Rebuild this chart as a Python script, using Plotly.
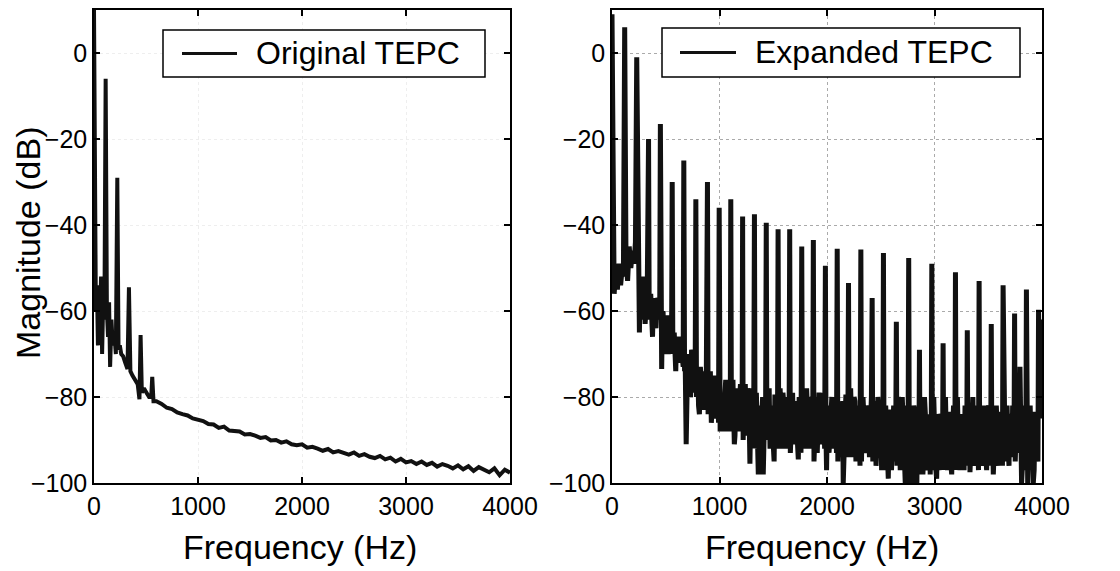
import plotly.graph_objects as go

# ---------------- data ----------------
# Left panel: Original TEPC (frequency in Hz, magnitude in dB)
left_low_hz = [0, 8, 18, 28, 38, 48, 58, 68, 78, 88, 100, 112, 124, 135, 145, 155, 168, 180,
               195, 210, 224, 236, 248, 262, 280, 300, 322, 336, 350, 370, 395, 420, 437, 448,
               460, 480, 505, 530, 550, 560, 572]
left_low_db = [10, -52, -60, -54, -68, -56, -62, -52, -70, -58, -62, -6, -60, -66, -58, -73, -62, -68,
               -65, -70, -29, -69, -68, -70, -70.5, -72, -73.5, -54.5, -74, -75, -76, -77, -80.5, -65.6,
               -79, -78, -79, -80, -80, -75.3, -81]
left_tail_hz = [600, 650, 700, 750, 800, 850, 900, 950, 1000, 1050, 1100, 1150, 1200, 1250, 1300,
                1350, 1400, 1450, 1500, 1550, 1600, 1650, 1700, 1750, 1800, 1850, 1900, 1950, 2000,
                2050, 2100, 2150, 2200, 2250, 2300, 2350, 2400, 2450, 2500, 2550, 2600, 2650, 2700,
                2750, 2800, 2850, 2900, 2950, 3000, 3050, 3100, 3150, 3200, 3250, 3300, 3350, 3400,
                3450, 3500, 3550, 3600, 3650, 3700, 3750, 3800, 3850, 3900, 3950, 4000]
left_tail_db = [-81.0, -81.6, -82.5, -82.8, -83.6, -84.0, -84.3, -85.0, -85.4, -85.6, -86.3, -86.4,
                -87.2, -86.9, -87.8, -87.9, -88.0, -88.7, -88.6, -89.0, -89.5, -89.3, -90.1, -90.0,
                -90.6, -90.3, -91.0, -91.2, -91.0, -91.8, -91.6, -92.0, -92.5, -92.1, -92.9, -92.6,
                -93.0, -93.4, -92.9, -93.7, -93.3, -93.9, -94.2, -93.7, -94.5, -94.1, -95.0, -94.4,
                -95.2, -94.9, -95.6, -95.0, -95.8, -95.3, -96.2, -95.6, -96.0, -96.6, -95.9, -96.8,
                -96.1, -97.2, -96.3, -97.0, -97.5, -96.6, -98.2, -96.9, -97.6]

# Right panel: Expanded TEPC, harmonic peaks
right_peak_hz = [118, 230, 340, 450, 560, 668, 780, 888, 997, 1105, 1215, 1325, 1435, 1545, 1653,
                 1765, 1873, 1985, 2095, 2200, 2315, 2420, 2525, 2645, 2760, 2860, 2975, 3080, 3195,
                 3305, 3415, 3528, 3638, 3745, 3855, 3968]
right_peak_db = [6, -1, -20, -16.5, -30, -25, -34, -30, -36, -34, -38, -37.5, -39.5, -41, -41,
                 -45, -43.5, -49.5, -45.5, -53.5, -45.7, -57, -46.5, -62.5, -47.7, -69, -49, -67.5, -51,
                 -64.5, -53, -63, -54, -60.6, -55, -59.7]
# Right panel: floor between the harmonics (main readings)
right_floor_hz = [0, 8, 20, 35, 50, 65, 80, 95, 106,
                  130, 145, 160, 175, 190, 205, 218,
                  242, 255, 268, 285, 300, 315, 328,
                  352, 369, 385, 400, 418, 438,
                  462, 475, 495, 515, 532, 548,
                  572, 586, 600, 618, 635, 655,
                  680, 690, 705, 722, 740, 758, 768,
                  792, 805, 822, 840, 858, 866, 877,
                  900, 915, 932, 950, 968, 985,
                  1006, 1020, 1040, 1058, 1068, 1085, 1095,
                  1117, 1132, 1144, 1160, 1180, 1195, 1205,
                  1226, 1240, 1258, 1272, 1283, 1298, 1313,
                  1337, 1350, 1361, 1375, 1395, 1407, 1423,
                  1447, 1462, 1480, 1500, 1515, 1532,
                  1557, 1572, 1590, 1610, 1624, 1640,
                  1665, 1680, 1698, 1715, 1733, 1750,
                  1777, 1792, 1810, 1826, 1845, 1860,
                  1885, 1900, 1918, 1934, 1952, 1970,
                  1996, 2010, 2028, 2045, 2062, 2080,
                  2107, 2122, 2138, 2151, 2165, 2185,
                  2212, 2228, 2244, 2260, 2278, 2298,
                  2327, 2342, 2368, 2385, 2405,
                  2432, 2448, 2465, 2482, 2508, 2515,
                  2537, 2555, 2570, 2590, 2610, 2630,
                  2657, 2672, 2690, 2710, 2728, 2745,
                  2772, 2785, 2800, 2815, 2836, 2848,
                  2872, 2885, 2899, 2915, 2935, 2955, 2965,
                  2987, 3000, 3020, 3040, 3055, 3068,
                  3092, 3113, 3130, 3150, 3170, 3183,
                  3207, 3220, 3237, 3255, 3275, 3292,
                  3317, 3330, 3348, 3365, 3385, 3403,
                  3427, 3438, 3455, 3475, 3495, 3515,
                  3540, 3547, 3565, 3585, 3605, 3625,
                  3650, 3665, 3685, 3700, 3720, 3733,
                  3757, 3775, 3795, 3810, 3825, 3843,
                  3867, 3880, 3900, 3919, 3935, 3955,
                  3980, 3992, 4000]
right_floor_db = [9, -48, -56, -50, -55, -49, -54, -50, -52,
                  -48, -53, -45, -50, -46, -49, -44,
                  -47, -65, -54, -57, -52, -60, -55,
                  -58, -64, -57, -61, -58, -62,
                  -73.5, -60, -64, -61, -67, -63,
                  -66, -72, -67, -70, -66, -71,
                  -70, -91, -70, -75, -69, -77, -72,
                  -76, -82, -73, -79, -74, -82.5, -76,
                  -78, -74, -81, -75, -80, -77,
                  -88, -79, -84, -76, -88, -80, -76,
                  -79, -84, -89, -78, -83, -77, -82,
                  -82, -77, -84, -79, -95.5, -81, -78,
                  -80, -86, -98, -82, -85, -98, -80,
                  -83, -78, -86, -91, -80, -84,
                  -82, -87, -79, -85, -86, -80,
                  -84, -79, -86, -82, -94.5, -81,
                  -80, -86, -78, -83, -87, -80,
                  -86, -80, -88, -85, -79, -84,
                  -97, -82, -87, -80, -86, -82,
                  -84, -90, -81, -100, -85, -80,
                  -84, -88, -88, -81, -90, -83,
                  -82, -89, -93, -83, -87,
                  -86, -81, -91, -84, -97, -85,
                  -84, -90, -99, -83, -91, -85,
                  -88, -82, -92, -86, -100, -84,
                  -100, -86, -100, -83, -100, -86,
                  -85, -93, -93.6, -84, -95, -86, -92,
                  -87, -94, -99, -85, -92, -86,
                  -88, -93, -84, -95, -87, -92,
                  -86, -90, -94, -85, -97, -88,
                  -84, -97.5, -86, -93, -84, -90,
                  -88, -96, -85, -93, -83, -88,
                  -89, -98, -86, -92, -84, -89,
                  -93.5, -87, -92, -85, -93.5, -88,
                  -88, -93, -73, -100, -86, -90,
                  -100, -88, -95, -100, -84, -92,
                  -85, -72, -62]
# Right panel: extra floor readings (the dense noisy band between the harmonics)
right_extra_hz = [248, 262, 278, 293, 308, 346, 360, 377, 393, 409, 428, 444, 456, 468, 485, 505,
                  523, 540, 554, 566, 579, 593, 609, 627, 645, 662,
                  675, 697, 713, 731, 749, 773,
                  786, 798, 813, 831, 849, 872,
                  894, 908, 924, 941, 959, 977, 991,
                  1013, 1030, 1049, 1076, 1100,
                  1111, 1125, 1138, 1152, 1170, 1188, 1210,
                  1220, 1233, 1249, 1265, 1278, 1291, 1305, 1319,
                  1331, 1343, 1356, 1368, 1385, 1401, 1415, 1429,
                  1441, 1455, 1470, 1490, 1508, 1524, 1539,
                  1551, 1564, 1581, 1600, 1617, 1632, 1647,
                  1659, 1672, 1689, 1706, 1724, 1741, 1758,
                  1771, 1784, 1801, 1818, 1835, 1852, 1867,
                  1879, 1892, 1909, 1926, 1943, 1961, 1978,
                  1991, 2003, 2019, 2036, 2053, 2071, 2088,
                  2101, 2114, 2130, 2145, 2158, 2175, 2193,
                  2206, 2220, 2236, 2252, 2269, 2288, 2307,
                  2321, 2335, 2355, 2376, 2395, 2413,
                  2426, 2440, 2456, 2473, 2490, 2500, 2520,
                  2531, 2546, 2562, 2580, 2600, 2620, 2638,
                  2651, 2664, 2681, 2700, 2719, 2737, 2753,
                  2766, 2778, 2792, 2808, 2825, 2842, 2854,
                  2866, 2878, 2892, 2907, 2925, 2945, 2960, 2970,
                  2981, 2993, 3010, 3030, 3047, 3062, 3074,
                  3086, 3102, 3121, 3140, 3160, 3177, 3189,
                  3201, 3213, 3228, 3246, 3265, 3284, 3299,
                  3311, 3323, 3339, 3357, 3375, 3394, 3409,
                  3421, 3432, 3446, 3465, 3485, 3505, 3522,
                  3534, 3556, 3575, 3595, 3615, 3632,
                  3644, 3657, 3675, 3693, 3710, 3727, 3739,
                  3751, 3766, 3785, 3802, 3818, 3834, 3849,
                  3861, 3873, 3890, 3910, 3927, 3945, 3962]
right_extra_db = [-58, -52, -62, -55, -63, -62, -56, -66, -59, -64, -57, -60, -66, -62, -70, -63,
                  -70, -66, -68, -70, -65, -74, -66, -72, -67, -73,
                  -74, -80, -72, -80, -70, -79,
                  -80, -73, -84, -75, -83, -79,
                  -84, -77, -86, -76, -85, -78, -86,
                  -80, -88, -77, -82, -88,
                  -88, -76, -91, -80, -88, -78, -88,
                  -90, -79, -89, -78, -88, -82, -90, -80,
                  -92, -79, -92, -83, -90, -80, -92, -82,
                  -90, -80, -92, -82, -95, -80, -92,
                  -90, -78, -92, -82, -92, -80, -90,
                  -93, -82, -91, -81, -90, -80, -93,
                  -90, -79, -92, -82, -92, -80, -91,
                  -95, -81, -93, -79, -91, -82, -92,
                  -90, -84, -93, -80, -92, -81, -93,
                  -95, -82, -94, -82, -93, -80, -94,
                  -92, -78, -94, -80, -95, -82, -96,
                  -95, -80, -91, -82, -94, -80,
                  -95, -82, -96, -80, -94, -84, -94,
                  -97, -82, -95, -84, -97, -82, -95,
                  -96, -80, -97, -80, -96, -82, -98,
                  -96, -84, -98, -82, -97, -84, -98,
                  -96, -82, -98, -80, -97, -84, -98, -86,
                  -97, -80, -96, -84, -97, -84, -97,
                  -96, -80, -97, -84, -98, -82, -96,
                  -97, -80, -97, -84, -92, -82, -96,
                  -95, -84, -92, -80, -96, -82, -97,
                  -96, -82, -91, -82, -97, -82, -96,
                  -95, -86, -82, -96, -84, -96,
                  -86, -95, -82, -96, -84, -82, -94,
                  -95, -82, -88, -86, -96, -82, -97,
                  -94, -90, -82, -92, -97, -84, -95]

x_ticks = [0, 1000, 2000, 3000, 4000]
y_ticks = [-100, -80, -60, -40, -20, 0]
legend_labels = ["Original TEPC", "Expanded TEPC"]

# ---------------- assemble traces ----------------
left_x = left_low_hz + left_tail_hz
left_y = left_low_db + left_tail_db
right_pts = sorted(zip(right_peak_hz + right_floor_hz + right_extra_hz,
                       right_peak_db + right_floor_db + right_extra_db))
right_x = [p[0] for p in right_pts]
right_y = [p[1] for p in right_pts]

FONT = "Liberation Sans, Arial, Helvetica, sans-serif"
OFF = 8                      # page body margin of the browser
W, H = 1120 - OFF, 571 - OFF
LINE = "#111111"

fig = go.Figure()
fig.add_trace(go.Scatter(x=left_x, y=left_y, mode="lines", name=legend_labels[0],
                         line=dict(color=LINE, width=4), xaxis="x", yaxis="y", showlegend=False))
fig.add_trace(go.Scatter(x=right_x, y=right_y, mode="lines", name=legend_labels[1],
                         line=dict(color=LINE, width=5), xaxis="x2", yaxis="y2", showlegend=False))

# screen pixel -> paper helpers
def px(x):
    return (x - OFF) / W

def py(y):
    return 1 - (y - OFF) / H

left_dom = [px(94), px(510)]
right_dom = [px(612), px(1042)]
y_dom = [py(483), py(10)]

def xaxis(dom, anchor, gridcolor):
    return dict(domain=dom, anchor=anchor, range=[0, 4000], tickvals=x_ticks, automargin=False,
                ticks="inside", ticklen=6, tickwidth=1.5, tickcolor="black",
                showline=True, linecolor="black", linewidth=1.5, mirror="ticks",
                showgrid=True, gridcolor=gridcolor, griddash="dot", gridwidth=1,
                zeroline=False, tickfont=dict(size=25, color="black", family=FONT))

def yaxis(anchor, gridcolor):
    return dict(domain=y_dom, anchor=anchor, range=[-100, 10], tickvals=y_ticks, automargin=False,
                ticks="inside", ticklen=6, tickwidth=1.5, tickcolor="black",
                showline=True, linecolor="black", linewidth=1.5, mirror="ticks",
                showgrid=True, gridcolor=gridcolor, griddash="dot", gridwidth=1,
                zeroline=False, tickfont=dict(size=25, color="black", family=FONT))

shapes = []
annotations = []

# axis titles
annotations.append(dict(text="Frequency (Hz)", x=px(300), y=py(547), xref="paper", yref="paper",
                        xanchor="center", yanchor="middle",
                        showarrow=False, font=dict(size=34, color="black", family=FONT)))
annotations.append(dict(text="Frequency (Hz)", x=px(822), y=py(547), xref="paper", yref="paper",
                        xanchor="center", yanchor="middle",
                        showarrow=False, font=dict(size=34, color="black", family=FONT)))
annotations.append(dict(text="Magnitude (dB)", x=px(28), y=py(243), xref="paper", yref="paper",
                        xanchor="center", yanchor="middle",
                        showarrow=False, textangle=-90, font=dict(size=34, color="black", family=FONT)))

# legend boxes
legend_boxes = [(163, 30, 485, 77, 182, 237, 254), (662, 28, 1020, 77, 680, 736, 753)]
for (x0, y0, x1, y1, lx0, lx1, tx), label in zip(legend_boxes, legend_labels):
    shapes.append(dict(type="rect", xref="paper", yref="paper", x0=px(x0), x1=px(x1),
                       y0=py(y1), y1=py(y0), line=dict(color="black", width=1.5),
                       fillcolor="white", layer="above"))
    ym = (y0 + y1) / 2
    shapes.append(dict(type="line", xref="paper", yref="paper", x0=px(lx0), x1=px(lx1),
                       y0=py(ym), y1=py(ym), line=dict(color=LINE, width=3), layer="above"))
    annotations.append(dict(text=label, x=px(tx), y=py(ym), xref="paper", yref="paper",
                            xanchor="left", yanchor="middle", showarrow=False,
                            font=dict(size=32, color="black", family=FONT)))

fig.update_layout(
    width=W, height=H,
    margin=dict(l=0, r=0, t=0, b=0, autoexpand=False),
    paper_bgcolor="white", plot_bgcolor="white",
    font=dict(family=FONT, color="black"),
    xaxis=xaxis(left_dom, "y", "#eeeeee"),
    yaxis=yaxis("x", "#eeeeee"),
    xaxis2=xaxis(right_dom, "y2", "#aaaaaa"),
    yaxis2=yaxis("x2", "#aaaaaa"),
    shapes=shapes,
    annotations=annotations,
    showlegend=False,
)

fig.write_html("out.html")
